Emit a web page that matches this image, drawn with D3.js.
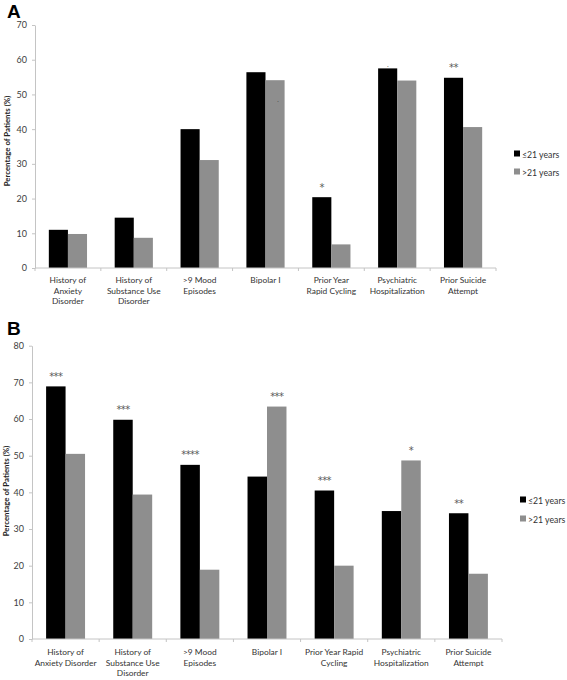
<!DOCTYPE html>
<html>
<head>
<meta charset="utf-8">
<script src="https://cdn.jsdelivr.net/npm/d3@7"></script>
<style>
  html, body { margin: 0; padding: 0; background: #fff; }
  svg { display: block; }
</style>
</head>
<body>
<svg id="chart" width="567" height="680"></svg>
<script>
// ---------- DATA ----------
const categories = ["Anxiety", "Substance", "Mood", "Bipolar", "Rapid", "Psychiatric", "Suicide"];
const seriesNames = ["\u226421 years", ">21 years"];

const labelsA = [
  ["History of", "Anxiety", "Disorder"],
  ["History of", "Substance Use", "Disorder"],
  [">9 Mood", "Episodes"],
  ["Bipolar I"],
  ["Prior Year", "Rapid Cycling"],
  ["Psychiatric", "Hospitalization"],
  ["Prior Suicide", "Attempt"]
];
const labelsB = [
  ["History of", "Anxiety Disorder"],
  ["History of", "Substance Use", "Disorder"],
  [">9 Mood", "Episodes"],
  ["Bipolar I"],
  ["Prior Year Rapid", "Cycling"],
  ["Psychiatric", "Hospitalization"],
  ["Prior Suicide", "Attempt"]
];

const youngA = [11.0, 14.5, 40.0, 56.4, 20.4, 57.5, 54.8];
const oldA   = [9.8, 8.7, 31.1, 54.1, 6.8, 54.0, 40.6];
const youngB = [68.9, 59.8, 47.5, 44.3, 40.5, 34.9, 34.3];
const oldB   = [50.5, 39.4, 18.9, 63.4, 20.0, 48.7, 17.8];

// significance marks: [category index, series index, text]
const sigA = [[4, 0, "*"], [5, 0, "."], [6, 0, "**"]];
const sigB = [[0, 0, "***"], [1, 0, "***"], [2, 0, "****"], [3, 1, "***"], [4, 0, "***"], [5, 1, "*"], [6, 0, "**"]];
// stray mark inside the Bipolar I (>21) bar of panel A
const strayA = [[3, 1, 47.8]];

const yTicksA = [0, 10, 20, 30, 40, 50, 60, 70];
const yTicksB = [0, 10, 20, 30, 40, 50, 60, 70, 80];

// ---------- DRAW ----------
const svg = d3.select("#chart");
const colors = ["#000000", "#8e8e8e"];
const font = "Lato, 'Open Sans', sans-serif";

function panel(cfg) {
  const g = svg.append("g");
  const x = d3.scaleBand().domain(categories).range([cfg.x0, cfg.x1])
    .paddingInner(0.42).paddingOuter(0.21);
  const xs = d3.scaleBand().domain([0, 1]).range([0, x.bandwidth()]);
  const y = d3.scaleLinear().domain([0, cfg.yMax]).range([cfg.yBottom, cfg.yTop]);
  const step = (cfg.x1 - cfg.x0) / categories.length;

  // panel letter
  g.append("text").attr("x", cfg.letterX).attr("y", cfg.letterY)
    .attr("font-family", "Arial, 'Liberation Sans', sans-serif").attr("font-weight", "bold")
    .attr("font-size", 19).attr("fill", "#000").text(cfg.letter);

  // y axis
  const ya = g.append("g").attr("transform", `translate(${cfg.x0},0)`)
    .call(d3.axisLeft(y).tickValues(cfg.yTicks).tickSize(3).tickSizeOuter(0).tickPadding(5));
  ya.select(".domain").attr("stroke", "#c4c4c4");
  ya.selectAll(".tick line").attr("stroke", "#c4c4c4");
  ya.selectAll(".tick text").attr("fill", "#404040").attr("font-family", font).attr("font-size", 9);

  // y title
  g.append("text")
    .attr("transform", `translate(${cfg.titleX},${cfg.titleY}) rotate(-90)`)
    .attr("text-anchor", "middle").attr("dominant-baseline", "central")
    .attr("font-family", font).attr("font-weight", "bold").attr("font-size", 7.8)
    .attr("fill", "#222").text("Percentage of Patients (%)");

  // bars
  const rows = categories.map((c, i) => ({ c, i, v: [cfg.young[i], cfg.old[i]] }));
  const grp = g.selectAll("g.cat").data(rows).join("g")
    .attr("transform", d => `translate(${x(d.c)},0)`);
  grp.selectAll("rect").data(d => d.v.map((v, s) => ({ v, s }))).join("rect")
    .attr("x", d => xs(d.s)).attr("width", xs.bandwidth())
    .attr("y", d => y(d.v)).attr("height", d => y(0) - y(d.v))
    .attr("fill", d => colors[d.s]);

  // x axis line and ticks
  g.append("line").attr("x1", cfg.x0).attr("x2", cfg.x1)
    .attr("y1", y(0)).attr("y2", y(0)).attr("stroke", "#c4c4c4");
  g.selectAll("line.xt").data(d3.range(categories.length + 1)).join("line")
    .attr("x1", i => cfg.x0 + i * step).attr("x2", i => cfg.x0 + i * step)
    .attr("y1", y(0)).attr("y2", y(0) + 3).attr("stroke", "#c4c4c4");

  // x labels
  const lab = g.selectAll("text.xl").data(rows).join("text")
    .attr("text-anchor", "middle").attr("font-family", font).attr("font-size", 8.4)
    .attr("fill", "#333");
  lab.each(function (d) {
    const t = d3.select(this);
    cfg.labels[d.i].forEach((ln, k) => {
      t.append("tspan").attr("x", x(d.c) + x.bandwidth() / 2)
        .attr("y", y(0) + cfg.labelDy + k * 10.7).text(ln);
    });
  });

  // significance marks
  g.selectAll("text.sig").data(cfg.sig).join("text")
    .attr("x", d => x(categories[d[0]]) + xs(d[1]) + xs.bandwidth() / 2)
    .attr("y", d => y(cfg.both[d[1]][d[0]]) - (d[2] === "." ? 1 : 6.5))
    .attr("text-anchor", "middle").attr("font-family", "'DejaVu Sans', sans-serif")
    .attr("font-size", d => d[2] === "." ? 7 : 10).attr("fill", "#5a5a5a")
    .attr("letter-spacing", -0.6).text(d => d[2]);

  (cfg.stray || []).forEach(d => {
    g.append("text")
      .attr("x", x(categories[d[0]]) + xs(d[1]) + xs.bandwidth() * 0.65)
      .attr("y", y(d[2])).attr("font-size", 6).attr("fill", "#333")
      .attr("text-anchor", "middle").text(".");
  });

  // legend
  seriesNames.forEach((nm, s) => {
    const ly = cfg.legY + s * cfg.legGap;
    g.append("rect").attr("x", cfg.legX).attr("y", ly - 3.5).attr("width", 6).attr("height", 6)
      .attr("fill", colors[s]);
    g.append("text").attr("x", cfg.legX + 8).attr("y", ly).attr("dominant-baseline", "central")
      .attr("font-family", font).attr("font-size", 8.7).attr("fill", "#333").text(nm);
  });
}

panel({
  letter: "A", letterX: 7, letterY: 18,
  x0: 35, x1: 496, yTop: 25, yBottom: 268, yMax: 70, yTicks: yTicksA,
  young: youngA, old: oldA, both: [youngA, oldA], labels: labelsA, labelDy: 15,
  sig: sigA, stray: strayA,
  titleX: 7, titleY: 141,
  legX: 514, legY: 154, legGap: 18
});

panel({
  letter: "B", letterX: 7, letterY: 335,
  x0: 32, x1: 502, yTop: 345.7, yBottom: 639, yMax: 80, yTicks: yTicksB,
  young: youngB, old: oldB, both: [youngB, oldB], labels: labelsB, labelDy: 16,
  sig: sigB,
  titleX: 6, titleY: 491,
  legX: 520, legY: 500, legGap: 19
});
</script>
</body>
</html>
